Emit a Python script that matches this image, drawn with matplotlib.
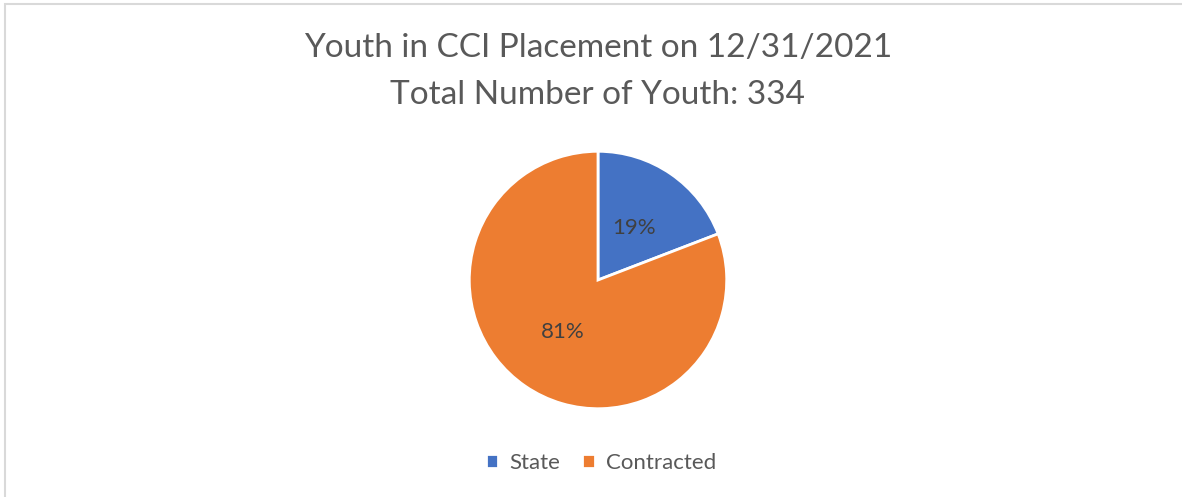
import matplotlib.pyplot as plt
from matplotlib.patches import Rectangle

labels = ["State", "Contracted"]
counts = [64, 270]
colors = ["#4472C4", "#ED7D31"]
title_lines = ["Youth in CCI Placement on 12/31/2021", "Total Number of Youth: 334"]

plt.rcParams['font.family'] = ['Lato', 'DejaVu Sans']

fig = plt.figure(figsize=(11.82, 4.97), dpi=100)

# chart area border (only top/left visible in the crop)
fig.patches.append(Rectangle((5 / 1182, -0.1), 1.2, (497 - 4) / 497 + 0.1,
                             transform=fig.transFigure, fill=False,
                             edgecolor="#d9d9d9", linewidth=1.5))

ax = fig.add_axes([468 / 1182, 87 / 497, 260 / 1182, 260 / 497])
wedges, texts, autotexts = ax.pie(counts, colors=colors, startangle=90, counterclock=False,
                                  autopct="%1.0f%%", pctdistance=0.49,
                                  wedgeprops=dict(edgecolor="white", linewidth=2))
for t in autotexts:
    t.set_color("#404040")
    t.set_fontsize(16)
ax.set_xlim(-1.01, 1.01)
ax.set_ylim(-1.01, 1.01)
ax.set_aspect("equal")

fig.text(598 / 1182, 1 - 48 / 497, title_lines[0], ha="center", va="center",
         fontsize=24, color="#595959")
fig.text(598 / 1182, 1 - 95 / 497, title_lines[1], ha="center", va="center",
         fontsize=24, color="#595959")

fig.legend(wedges, labels, loc="center", bbox_to_anchor=(601 / 1182, 1 - 463 / 497),
           ncol=2, frameon=False, fontsize=16, handlelength=0.55, handleheight=0.55,
           handletextpad=0.5, columnspacing=1.0, labelcolor="#595959")

fig.savefig("out.png", dpi=100)
